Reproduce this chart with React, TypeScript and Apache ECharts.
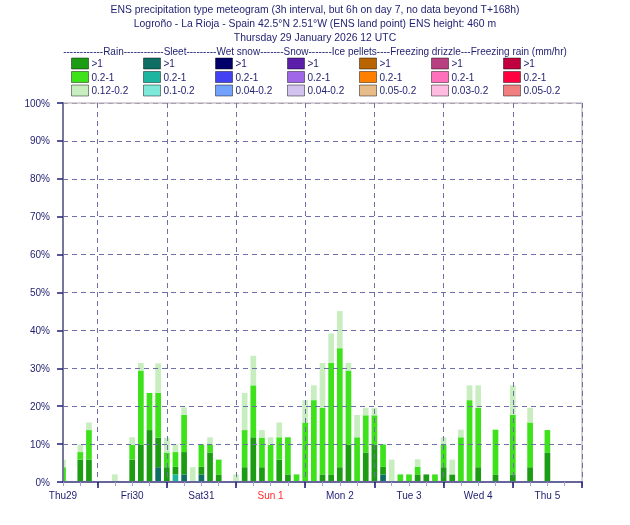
import React, { useEffect, useRef } from 'react';
import * as echarts from 'echarts';

// 3-hourly slots from Thu 29 Jan 12 UTC (T+0) to Fri 6 Feb 00 UTC (T+180h)
const slotHours: string[] = Array.from({ length: 61 }, (_, i) => String(i * 3));
// day labels placed at 12 UTC of each day
const dayLabels = ['Thu29', 'Fri30', 'Sat31', 'Sun 1', 'Mon 2', 'Tue 3', 'Wed 4', 'Thu 5'];
const yTicks = [0, 10, 20, 30, 40, 50, 60, 70, 80, 90, 100];

// percentage of ensemble members per class
const rainHeavy = [0, 0, 5.9, 5.9, 0, 0, 0, 0, 5.9, 9.8, 13.7, 7.8, 3.9, 2.0, 5.9, 0, 2.0, 7.8, 2.0, 0, 0, 3.9, 11.8, 3.9, 0, 5.9, 2.0, 0, 0, 0, 2.0, 2.0, 3.9, 9.8, 0, 7.8, 9.8, 2.0, 0, 0, 0, 2.0, 2.0, 0, 3.9, 2.0, 0, 0, 3.9, 0, 2.0, 0, 2.0, 0, 3.9, 0, 7.8, 0, 0, 0, 0];
const rainModerate = [3.9, 0, 2.0, 7.8, 0, 0, 0, 0, 3.9, 19.6, 9.8, 11.8, 3.9, 3.9, 9.8, 0, 5.9, 2.0, 3.9, 0, 0, 9.8, 13.7, 7.8, 9.8, 5.9, 9.8, 2.0, 15.7, 21.6, 17.6, 29.4, 31.4, 19.6, 11.8, 9.8, 7.8, 5.9, 0, 2.0, 2.0, 2.0, 0, 2.0, 5.9, 0, 11.8, 21.6, 15.7, 0, 11.8, 0, 15.7, 0, 11.8, 0, 5.9, 0, 0, 0, 0];
const rainLight = [2.0, 0, 2.0, 2.0, 0, 0, 2.0, 0, 2.0, 2.0, 0, 7.8, 3.9, 2.0, 2.0, 3.9, 0, 2.0, 0, 0, 2.0, 9.8, 7.8, 2.0, 2.0, 3.9, 0, 0, 5.9, 3.9, 11.8, 7.8, 9.8, 2.0, 5.9, 2.0, 2.0, 0, 5.9, 0, 0, 2.0, 0, 0, 2.0, 3.9, 2.0, 3.9, 5.9, 0, 0, 0, 7.8, 0, 3.9, 0, 0, 0, 0, 0, 0];
const sleetHeavy = [0, 0, 0, 0, 0, 0, 0, 0, 0, 0, 0, 3.9, 0, 0, 2.0, 0, 2.0, 0, 0, 0, 0, 0, 0, 0, 0, 0, 0, 0, 0, 0, 0, 0, 0, 0, 0, 0, 0, 2.0, 0, 0, 0, 0, 0, 0, 0, 0, 0, 0, 0, 0, 0, 0, 0, 0, 0, 0, 0, 0, 0, 0, 0];
const sleetModerate = [0, 0, 0, 0, 0, 0, 0, 0, 0, 0, 0, 0, 0, 2.0, 0, 0, 0, 0, 0, 0, 0, 0, 0, 0, 0, 0, 0, 0, 0, 0, 0, 0, 0, 0, 0, 0, 0, 0, 0, 0, 0, 0, 0, 0, 0, 0, 0, 0, 0, 0, 0, 0, 0, 0, 0, 0, 0, 0, 0, 0, 0];
const sleetLight: number[] = [];
const empty: number[] = [];

const precipTypes = ['Rain', 'Sleet', 'Wet snow', 'Snow', 'Ice pellets', 'Freezing drizzle', 'Freezing rain'];
const classLabels = [
  ['>1', '0.2-1', '0.12-0.2'],
  ['>1', '0.2-1', '0.1-0.2'],
  ['>1', '0.2-1', '0.04-0.2'],
  ['>1', '0.2-1', '0.04-0.2'],
  ['>1', '0.2-1', '0.05-0.2'],
  ['>1', '0.2-1', '0.03-0.2'],
  ['>1', '0.2-1', '0.05-0.2'],
];
const classColors = [
  ['#1c9c12', '#3de21b', '#c8eec0'],
  ['#0e6e63', '#1cb5a0', '#7ee8d9'],
  ['#00006a', '#4242f2', '#72a2fc'],
  ['#5a1eaa', '#a068e8', '#d2c2ee'],
  ['#b86400', '#ff8000', '#e8bc88'],
  ['#b84080', '#ff70bc', '#ffbce0'],
  ['#c00040', '#ff0040', '#f08080'],
];
const classData = [
  [rainHeavy, rainModerate, rainLight],
  [sleetHeavy, sleetModerate, sleetLight],
  [empty, empty, empty],
  [empty, empty, empty],
  [empty, empty, empty],
  [empty, empty, empty],
  [empty, empty, empty],
];
// stacking order from bottom: sleet, rain, then the rest
const stackOrder = [1, 0, 2, 3, 4, 5, 6];

const legendHeader =
  '------------Rain------------Sleet---------Wet snow-------Snow-------Ice pellets----Freezing drizzle---Freezing rain (mm/hr)';
const titleLines = [
  'ENS precipitation type meteogram (3h interval, but 6h on day 7, no data beyond T+168h)',
  'Logroño - La Rioja - Spain 42.5°N 2.51°W (ENS land point) ENS height: 460 m',
  'Thursday 29 January 2026 12 UTC',
];

const FONT = '"Liberation Sans", Arial, sans-serif';
const NAVY = '#1e1e70';
const GRID = { left: 63, top: 103, width: 519, height: 379 };

export default function App() {
  const ref = useRef<HTMLDivElement>(null);
  useEffect(() => {
    if (!ref.current) return;
    const chart = echarts.init(ref.current, undefined, { renderer: 'svg' });

    const series: any[] = [];
    stackOrder.forEach((t) => {
      [0, 1, 2].forEach((c) => {
        series.push({
          type: 'bar',
          name: precipTypes[t] + ' ' + classLabels[t][c],
          stack: 'p',
          barWidth: 5.7,
          data: classData[t][c],
          itemStyle: { color: classColors[t][c] },
        });
      });
    });

    const legends = precipTypes.map((t, i) => ({
      orient: 'vertical',
      left: 71 + 72 * i,
      top: 57.5,
      padding: 0,
      itemWidth: 17,
      itemHeight: 11,
      itemGap: 1.5,
      icon: 'rect',
      selectedMode: false,
      itemStyle: { borderColor: 'rgba(0,0,0,0.45)', borderWidth: 1 },
      textStyle: { fontSize: 10, color: NAVY, fontFamily: FONT, lineHeight: 11, padding: [0, 0, 0, -2] },
      formatter: (name: string) => name.slice(t.length + 1),
      data: [0, 1, 2].map((c) => t + ' ' + classLabels[i][c]),
    }));

    const titleStyle = { fontSize: 10.4, fontWeight: 'normal', color: NAVY, fontFamily: FONT };
    chart.setOption({
      animation: false,
      textStyle: { fontFamily: FONT },
      title: [
        ...titleLines.map((txt, i) => ({ text: txt, left: 'center', top: 4 + i * 14, padding: 0, textStyle: titleStyle })),
        { text: legendHeader, left: 'center', top: 46, padding: 0, textStyle: { ...titleStyle, fontSize: 10 } },
      ],
      legend: legends,
      grid: { ...GRID, show: true, borderColor: '#aaa2ac', borderWidth: 1 },
      // mask that hides the half bar at T+0 spilling left of the y axis
      graphic: [
        {
          type: 'rect',
          z: 5,
          shape: { x: GRID.left - 6, y: GRID.top, width: 5.5, height: GRID.height },
          style: { fill: '#ffffff' },
          silent: true,
        },
      ],
      xAxis: [
        {
          type: 'category',
          data: slotHours,
          boundaryGap: false,
          position: 'bottom',
          z: 10,
          axisLine: { lineStyle: { color: '#66669a', width: 2 } },
          axisTick: { interval: (i: number) => i % 2 === 0, length: 4, lineStyle: { color: '#a4a4d4' } },
          axisLabel: {
            interval: (i: number) => i % 8 === 0,
            formatter: (_v: string, i: number) => {
              const lbl = dayLabels[Math.round(i / 8)] || '';
              return lbl.startsWith('Sun') ? '{sun|' + lbl + '}' : lbl;
            },
            fontSize: 10,
            color: NAVY,
            fontFamily: FONT,
            margin: 8,
            rich: { sun: { color: '#ff2a2a', fontSize: 10, fontFamily: FONT } },
          },
          splitLine: {
            show: true,
            interval: (i: number) => i % 8 === 4,
            lineStyle: { type: [5, 4], color: '#7070a8', width: 1 },
          },
        },
        {
          type: 'category',
          data: slotHours,
          boundaryGap: false,
          position: 'bottom',
          z: 10,
          axisLine: { show: false },
          axisLabel: { show: false },
          axisTick: { interval: (i: number) => i % 8 === 4, length: 6, lineStyle: { color: '#14146e', width: 1.5 } },
          splitLine: { show: false },
        },
      ],
      yAxis: {
        type: 'value',
        min: yTicks[0],
        max: yTicks[yTicks.length - 1],
        interval: 10,
        z: 10,
        axisLine: { show: true, lineStyle: { color: '#77779c', width: 2 } },
        axisTick: { show: true, length: 6, lineStyle: { color: '#1e1e78', width: 1.5 } },
        axisLabel: { formatter: '{value}%', fontSize: 10, color: NAVY, fontFamily: FONT, margin: 13 },
        splitLine: {
          show: true,
          lineStyle: {
            type: [5, 4],
            color: yTicks.map((v) => (v === 100 ? '#a8a0b2' : '#6e6ea8')),
          },
        },
      },
      series,
    });
    return () => chart.dispose();
  }, []);
  return <div ref={ref} style={{ position: 'fixed', left: 0, top: 0, width: 630, height: 525 }} />;
}
